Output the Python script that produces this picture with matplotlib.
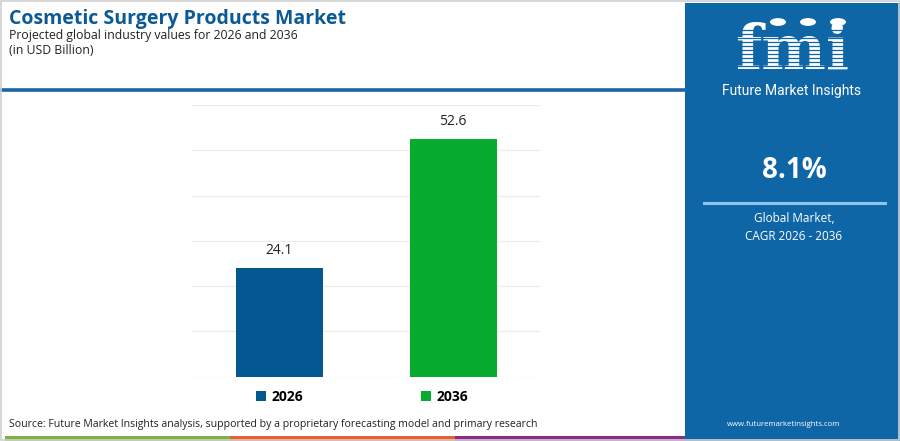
import matplotlib
matplotlib.use("Agg")
import matplotlib.pyplot as plt
from matplotlib.patches import Rectangle, Patch, Circle
from matplotlib.lines import Line2D

categories = ["2026", "2036"]
values = [24.1, 52.6]
colors = ["#045891", "#07ab2e"]
yticks = [0, 10, 20, 30, 40, 50, 60]

title = "Cosmetic Surgery Products Market"
subtitle = "Projected global industry values for 2026 and 2036"
unit = "(in USD Billion)"
source = "Source: Future Market Insights analysis, supported by a proprietary forecasting model and primary research"
cagr = "8.1%"
cagr_label = "Global Market,\nCAGR 2026 - 2036"
website = "www.futuremarketinsights.com"
brand = "Future Market Insights"

W, H = 900, 441
fig = plt.figure(figsize=(W / 100, H / 100), dpi=100)
fig.patch.set_facecolor("white")

def fx(px):
    return px / W

def fy(py):
    return 1 - py / H

font = "Open Sans"
panel_col = "#0f66a7"

# right panel
fig.patches.append(Rectangle((fx(685), 0), fx(900 - 685), fy(3), transform=fig.transFigure,
                             facecolor=panel_col, edgecolor="none", zorder=0))
# outer border
fig.patches.append(Rectangle((0.001, 0.002), 0.998, 0.996, transform=fig.transFigure,
                             facecolor="none", edgecolor="#d0d0d0", linewidth=1.2, zorder=5))
# header line
fig.lines.append(Line2D([0, fx(685)], [fy(90), fy(90)], transform=fig.transFigure,
                        color="#1a65a5", linewidth=2.6, zorder=3))
# bottom colour strip
for x0, x1, c in [(5, 230, "#7cb342"), (230, 455, "#e8612c"), (455, 685, "#8e2a8a")]:
    fig.patches.append(Rectangle((fx(x0), fy(441)), fx(x1 - x0), 5 / H, transform=fig.transFigure,
                                 facecolor=c, edgecolor="none", zorder=3))

# titles
fig.text(fx(9), fy(19), title, fontsize=14, fontweight="bold", color="#0b5a96",
         family=font, va="center", ha="left")
fig.text(fx(9), fy(35), subtitle, fontsize=8.8, color="#222222", family=font, va="center", ha="left")
fig.text(fx(9), fy(51), unit, fontsize=8.8, color="#222222", family=font, va="center", ha="left")
fig.text(fx(9), fy(425), source, fontsize=7.6, color="#222222", family=font, va="center", ha="left")

# logo
fig.text(fx(792), fy(52), "fmi", fontsize=44, fontweight="bold", color="white",
         family="DejaVu Serif", va="center", ha="center")
for yy in range(30, 78, 4):
    fig.lines.append(Line2D([fx(715), fx(870)], [fy(yy), fy(yy)], transform=fig.transFigure,
                            color=panel_col, linewidth=0.9, zorder=4))
for cx in [778, 808, 838]:
    fig.patches.append(Circle((fx(cx), fy(22)), 8 / W, transform=fig.transFigure,
                              facecolor="white", edgecolor="none", zorder=4))
fig.text(fx(792), fy(91), brand, fontsize=10, color="white", family="Roboto",
         va="center", ha="center")

fig.text(fx(794), fy(171), cagr, fontsize=20, fontweight="bold", color="white",
         family=font, va="center", ha="center")
fig.lines.append(Line2D([fx(704), fx(885)], [fy(203), fy(203)], transform=fig.transFigure,
                        color="#8ec5ee", linewidth=2.2))
fig.text(fx(794), fy(228), cagr_label, fontsize=8.5, color="white", family=font,
         va="center", ha="center", linespacing=1.5)
fig.text(fx(784), fy(425), website, fontsize=5.6, color="white", family=font,
         va="center", ha="center")

# chart
ax = fig.add_axes([fx(192), fy(376.7), fx(540 - 192), (376.7 - 105) / H])
x = list(range(len(categories)))
bars = ax.bar(x, values, width=0.5, color=colors, zorder=3)
ax.set_xlim(-0.5, 1.5)
ax.set_ylim(0, 60)
ax.set_yticks(yticks)
ax.yaxis.grid(True, color="#ececec", linewidth=0.9, zorder=0)
ax.tick_params(left=False, bottom=False, labelleft=False, labelbottom=False)
for s in ax.spines.values():
    s.set_visible(False)
for xi, v in zip(x, values):
    ax.annotate(f"{v}", (xi, v), xytext=(0, 7), textcoords="offset points",
                ha="center", va="bottom", fontsize=10, color="#222222", family=font)

handles = [Patch(facecolor=c, edgecolor="none") for c in colors]
leg = fig.legend(handles, categories, loc="center", bbox_to_anchor=(fx(362), fy(397)),
                 ncol=2, frameon=False, handlelength=0.7, handleheight=0.7, handletextpad=0.4,
                 columnspacing=8.5, prop={"family": font, "weight": "bold", "size": 10})

fig.savefig("out.png", dpi=100, facecolor="white")
